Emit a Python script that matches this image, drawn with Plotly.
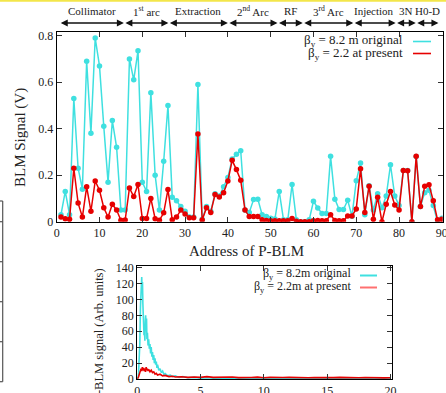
import plotly.graph_objects as go

# ---------------- data ----------------
address = list(range(1, 91))
blm_original = [0.03, 0.13, 0.03, 0.53, 0.23, 0.14, 0.69, 0.38, 0.79, 0.67,
                0.41, 0.17, 0.435, 0.32, 0.05, 0.05, 0.70, 0.61, 0.735, 0.17,
                0.13, 0.555, 0.20, 0.05, 0.26, 0.50, 0.105, 0.09, 0.065, 0.045,
                0.02, 0.02, 0.59, 0.01, 0.065, 0.045, 0.12, 0.11, 0.15, 0.19,
                0.27, 0.29, 0.305, 0.05, 0.04, 0.095, 0.097, 0.03, 0.022, 0.015,
                0.012, 0.13, 0.008, 0.008, 0.16, 0.008, 0.0, 0.0, 0.008, 0.088,
                0.059, 0.035, 0.035, 0.281, 0.097, 0.052, 0.052, 0.092, 0.023, 0.176,
                0.252, 0.03, 0.155, 0.05, 0.12, 0.06, 0.11, 0.245, 0.11, 0.07,
                0.22, 0.22, 0.0, 0.28, 0.065, 0.125, 0.135, 0.07, 0.0, 0.015]
blm_present = [0.02, 0.013, 0.01, 0.23, 0.08, 0.02, 0.15, 0.045, 0.175, 0.135,
               0.06, 0.02, 0.075, 0.05, 0.006, 0.007, 0.145, 0.108, 0.16, 0.014,
               0.014, 0.10, 0.013, 0.006, 0.038, 0.138, 0.008, 0.02, 0.05, 0.033,
               0.017, 0.017, 0.377, 0.007, 0.06, 0.04, 0.117, 0.106, 0.125, 0.175,
               0.264, 0.224, 0.178, 0.05, 0.022, 0.022, 0.022, 0.008, 0.005, 0.004,
               0.004, 0.004, 0.004, 0.004, 0.014, 0.002, 0.0, 0.0, 0.0, 0.004,
               0.005, 0.004, 0.004, 0.03, 0.005, 0.004, 0.004, 0.025, 0.025, 0.055,
               0.228, 0.04, 0.153, 0.01, 0.105, 0.0, 0.075, 0.13, 0.072, 0.05,
               0.22, 0.219, 0.0, 0.281, 0.065, 0.152, 0.159, 0.09, 0.008, 0.01]

section_names = ["Collimator", "1<sup>st</sup> arc", "Extraction", "2<sup>nd</sup> Arc", "RF",
                 "3<sup>rd</sup> Arc", "Injection", "3N", "H0-D"]
section_bounds = [0.6, 15.7, 26.1, 40.0, 51.6, 57.5, 69.3, 79.2, 83.9, 89.2]

x_ticks_top = [0, 10, 20, 30, 40, 50, 60, 70, 80, 90]
y_ticks_top = [0, 0.2, 0.4, 0.6, 0.8]

sblm_x_orig = [0.00, 0.05, 0.10, 0.15, 0.20, 0.25, 0.30, 0.35, 0.38, 0.41, 0.44, 0.47,
               0.50, 0.53, 0.56, 0.60, 0.63, 0.66, 0.70, 0.73, 0.76, 0.80, 0.85, 0.90,
               0.95, 1.00, 1.05, 1.10, 1.15, 1.20, 1.25, 1.30, 1.35, 1.40, 1.45, 1.50,
               1.55, 1.60, 1.70, 1.80, 1.90, 2.00, 2.10, 2.20, 2.40, 2.60, 2.80, 3.00,
               3.30, 3.60, 4.00, 4.50, 5.00, 5.50, 6.00, 7.00, 8.00, 9.00, 10.0, 11.0,
               12.0, 13.0, 14.0, 15.0, 16.0, 17.0, 18.0, 19.0, 20.0]
sblm_y_orig = [0, 2, 8, 20, 45, 90, 118, 128, 110, 122, 95, 70,
               85, 55, 62, 48, 72, 80, 60, 76, 50, 58, 42, 50,
               38, 44, 32, 40, 28, 34, 24, 30, 20, 26, 18, 22,
               14, 18, 11, 13, 8, 10, 6, 7, 4, 5, 3, 4,
               2, 3, 1.5, 2, 1, 1.5, 1, 1.2, 0.8, 1, 0.6, 0.8,
               0.5, 0.8, 0.6, 0.7, 0.5, 0.7, 0.5, 0.6, 0.5]
sblm_x_pres = [0.00, 0.10, 0.20, 0.30, 0.35, 0.40, 0.45, 0.50, 0.55, 0.60, 0.65, 0.70,
               0.75, 0.80, 0.85, 0.90, 1.00, 1.10, 1.20, 1.30, 1.40, 1.50, 1.60, 1.80,
               2.00, 2.20, 2.50, 2.80, 3.00, 3.50, 4.00, 4.50, 5.00, 5.50, 6.00, 6.50,
               7.00, 7.50, 8.00, 8.50, 9.00, 9.50, 10.0, 10.5, 11.0, 11.5, 12.0, 12.5,
               13.0, 13.5, 14.0, 14.5, 15.0, 15.5, 16.0, 16.5, 17.0, 17.5, 18.0, 18.5,
               19.0, 19.5, 20.0]
sblm_y_pres = [0, 3, 8, 13, 10, 15, 11, 14, 10, 13, 9, 15,
               11, 13, 10, 12, 9, 11, 8, 9, 6, 7, 5, 6,
               4, 4.5, 3, 3.5, 2.5, 2.8, 2, 2.5, 2, 3, 2, 2.3,
               1.8, 2.6, 1.7, 1.5, 1.8, 2.4, 1.6, 2, 1.5, 1.8, 2, 1.6,
               1.9, 1.5, 1.8, 1.6, 2, 1.7, 2.1, 1.8, 2, 1.6, 1.9, 1.5,
               1.8, 1.4, 1.5]
x_ticks_bot = [0, 5, 10, 15, 20]
y_ticks_bot = [0, 20, 40, 60, 80, 100, 120, 140]

# ---------------- layout helpers (pixel -> paper) ----------------
W, H = 446, 393
def px(x):
    return x / W
def py(y):
    return 1 - y / H

CYAN = "#3fe0e0"
RED = "#e60000"
FONT = "Liberation Serif, Times New Roman, serif"

fig = go.Figure()
fig.add_trace(go.Scatter(x=address, y=blm_original, mode="lines+markers",
                         line=dict(color=CYAN, width=1.5), marker=dict(size=5.5, color=CYAN),
                         xaxis="x", yaxis="y", showlegend=False))
fig.add_trace(go.Scatter(x=address, y=blm_present, mode="lines+markers",
                         line=dict(color=RED, width=1.5), marker=dict(size=5.5, color=RED),
                         xaxis="x", yaxis="y", showlegend=False))
fig.add_trace(go.Scatter(x=sblm_x_orig, y=sblm_y_orig, mode="lines",
                         line=dict(color=CYAN, width=1.6),
                         xaxis="x2", yaxis="y2", showlegend=False))
fig.add_trace(go.Scatter(x=sblm_x_pres, y=sblm_y_pres, mode="lines",
                         line=dict(color=RED, width=1.6),
                         xaxis="x2", yaxis="y2", showlegend=False))

axis_common = dict(showline=True, linecolor="black", linewidth=1.3, mirror="ticks",
                   ticks="inside", ticklen=5, tickwidth=1, tickcolor="#333",
                   showgrid=False, zeroline=False, automargin=False,
                   ticklabeloverflow="allow",
                   tickfont=dict(family=FONT, size=12, color="#222"))

fig.update_layout(
    width=W, height=H, margin=dict(l=0, r=0, t=0, b=0, pad=0, autoexpand=False),
    paper_bgcolor="white", plot_bgcolor="white",
    font=dict(family=FONT, color="#222"),
    xaxis=dict(domain=[px(56.7), px(442.7)], range=[0, 90.2], tickvals=x_ticks_top,
               anchor="y", **axis_common),
    yaxis=dict(domain=[py(221.7), py(32.2)], range=[0, 0.815], tickvals=y_ticks_top,
               ticktext=["0", "0.2", "0.4", "0.6", "0.8"], anchor="x", **axis_common),
    xaxis2=dict(domain=[px(137.3), px(391.7)], range=[0, 20.1], tickvals=x_ticks_bot,
                anchor="y2", **axis_common),
    yaxis2=dict(domain=[py(379.0), py(266.0)], range=[0, 142], tickvals=y_ticks_bot,
                anchor="x2", **axis_common),
)

ann = []
shapes = []

def label(text, x, y, size, xanchor="center", angle=0, xref="paper"):
    return dict(text=text, x=x, y=y, xref=xref, yref="paper", xanchor=xanchor, yanchor="middle",
                showarrow=False, textangle=angle, font=dict(family=FONT, size=size, color="#222"))

# axis titles
ann.append(label("Address of P-BLM", px(246), py(251), 15))
ann.append(label("BLM Signal (V)", px(21), py(138), 15, angle=-90))
ann.append(label("S-BLM signal (Arb. units)", px(99), py(335), 12.5, angle=-90))

# section arrows and labels (x in data units, y in paper units)
for i, name in enumerate(section_names):
    a, b = section_bounds[i], section_bounds[i + 1]
    ann.append(dict(x=b, y=py(23), ax=a, ay=0, xref="x", yref="paper", axref="x", ayref="pixel",
                    text="", showarrow=True, arrowhead=2, arrowside="end+start",
                    arrowsize=1.0, arrowwidth=1.4, arrowcolor="#111", standoff=0, startstandoff=0))
    ann.append(label(name, (a + b) / 2, py(11.5), 11, xref="x"))

# top legend
ann.append(label("β<sub>y</sub> = 8.2 m original", px(405), py(40), 13, xanchor="right"))
ann.append(label("β<sub>y</sub> = 2.2 at present", px(405), py(53), 13, xanchor="right"))
shapes.append(dict(type="line", xref="paper", yref="paper", x0=px(413), x1=px(431),
                   y0=py(41.5), y1=py(41.5), line=dict(color=CYAN, width=1.6)))
shapes.append(dict(type="line", xref="paper", yref="paper", x0=px(413), x1=px(431),
                   y0=py(53.5), y1=py(53.5), line=dict(color=RED, width=1.6)))

# inset legend
ann.append(label("β<sub>y</sub> = 8.2m original", px(353), py(274), 12, xanchor="right"))
ann.append(label("β<sub>y</sub> = 2.2m at present", px(353), py(287), 12, xanchor="right"))
shapes.append(dict(type="line", xref="paper", yref="paper", x0=px(360), x1=px(377),
                   y0=py(275.5), y1=py(275.5), line=dict(color=CYAN, width=2)))
shapes.append(dict(type="line", xref="paper", yref="paper", x0=px(360), x1=px(377),
                   y0=py(287.5), y1=py(287.5), line=dict(color="#ff7070", width=2)))

# decorations: yellow strip at the top and a frame fragment at the left edge
shapes.append(dict(type="line", xref="paper", yref="paper", x0=0, x1=1, y0=py(0.8), y1=py(0.8),
                   line=dict(color="#f3e64a", width=2)))
shapes.append(dict(type="line", xref="paper", yref="paper", x0=px(2.7), x1=px(2.7),
                   y0=py(201), y1=py(381.7), line=dict(color="#555", width=1.2)))
for yy in [201, 221.7, 261.7, 301.7, 341.7, 381.7]:
    shapes.append(dict(type="line", xref="paper", yref="paper", x0=0, x1=px(2.7),
                       y0=py(yy), y1=py(yy), line=dict(color="#555", width=1.2)))

fig.update_layout(annotations=ann, shapes=shapes)
fig.write_html("out.html", config={"displayModeBar": False},
               post_script="document.body.style.margin='0px';document.body.style.padding='0px';document.documentElement.style.overflow='hidden';")
